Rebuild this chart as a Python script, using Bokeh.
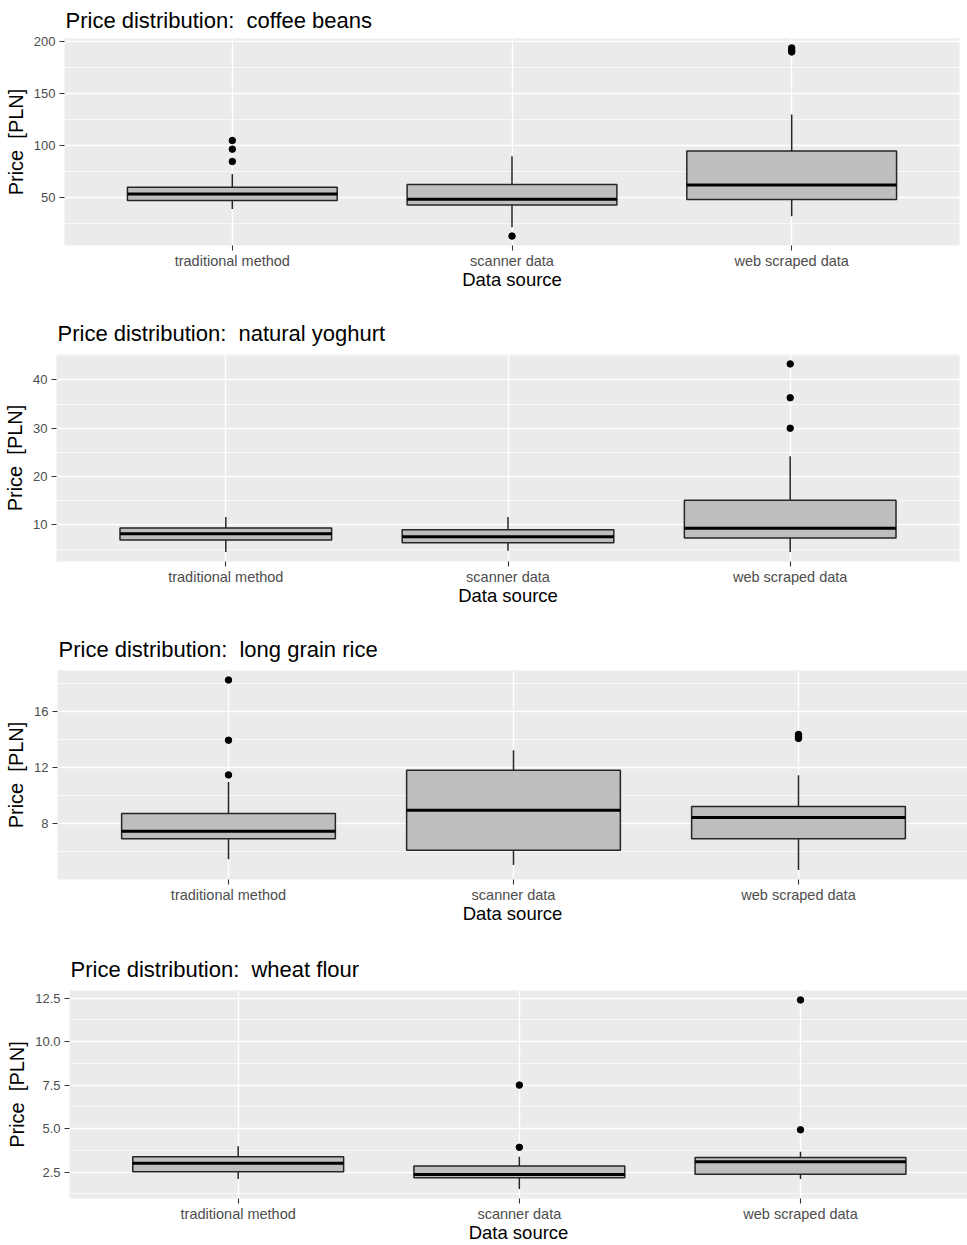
from bokeh.plotting import figure
from bokeh.models import FixedTicker, Range1d
from bokeh.layouts import column, row
from bokeh.embed import file_html
from bokeh.resources import INLINE

FONT = "Liberation Sans"
SP2 = " \u00a0"  # double space kept visible

categories = ["traditional method", "scanner data", "web scraped data"]

# ---- coffee beans ----
coffee_lower = [38.8, 21.1, 31.7]
coffee_q1 = [46.8, 42.6, 47.8]
coffee_median = [53.2, 48.1, 61.9]
coffee_q3 = [59.6, 62.2, 94.6]
coffee_upper = [72.5, 89.5, 129.7]
coffee_outliers = [[84.4, 96.3, 104.6], [12.7], [189.7, 191.3, 193.6]]
coffee_ticks = [50, 100, 150, 200]
coffee_tick_labels = ["50", "100", "150", "200"]
coffee_minor = [25, 75, 125, 175]

# ---- natural yoghurt ----
yoghurt_lower = [4.39, 4.66, 4.39]
yoghurt_q1 = [6.88, 6.33, 7.3]
yoghurt_median = [8.2, 7.57, 9.3]
yoghurt_q3 = [9.38, 9.03, 15.1]
yoghurt_upper = [11.66, 11.66, 24.2]
yoghurt_outliers = [[], [], [30.0, 36.3, 43.3]]
yoghurt_ticks = [10, 20, 30, 40]
yoghurt_tick_labels = ["10", "20", "30", "40"]
yoghurt_minor = [5, 15, 25, 35, 45]

# ---- long grain rice ----
rice_lower = [5.47, 5.06, 4.70]
rice_q1 = [6.93, 6.11, 6.93]
rice_median = [7.47, 8.96, 8.45]
rice_q3 = [8.74, 11.82, 9.24]
rice_upper = [10.99, 13.25, 11.46]
rice_outliers = [[11.49, 13.97, 18.27], [], [14.1, 14.22, 14.38]]
rice_ticks = [8, 12, 16]
rice_tick_labels = ["8", "12", "16"]
rice_minor = [6, 10, 14, 18]

# ---- wheat flour ----
flour_lower = [2.1, 1.52, 2.1]
flour_q1 = [2.52, 2.17, 2.37]
flour_median = [3.0, 2.35, 3.09]
flour_q3 = [3.38, 2.84, 3.34]
flour_upper = [3.98, 3.38, 3.67]
flour_outliers = [[], [3.92, 7.5], [4.93, 12.4]]
flour_ticks = [2.5, 5.0, 7.5, 10.0, 12.5]
flour_tick_labels = ["2.5", "5.0", "7.5", "10.0", "12.5"]
flour_minor = [1.25, 3.75, 6.25, 8.75, 11.25]

products = [
    ("coffee beans", coffee_lower, coffee_q1, coffee_median, coffee_q3, coffee_upper,
     coffee_outliers, coffee_ticks, coffee_tick_labels, coffee_minor),
    ("natural yoghurt", yoghurt_lower, yoghurt_q1, yoghurt_median, yoghurt_q3, yoghurt_upper,
     yoghurt_outliers, yoghurt_ticks, yoghurt_tick_labels, yoghurt_minor),
    ("long grain rice", rice_lower, rice_q1, rice_median, rice_q3, rice_upper,
     rice_outliers, rice_ticks, rice_tick_labels, rice_minor),
    ("wheat flour", flour_lower, flour_q1, flour_median, flour_q3, flour_upper,
     flour_outliers, flour_ticks, flour_tick_labels, flour_minor),
]

# layout per panel: height, border top, border bottom, border left/right, x end, title standoff
layouts = [
    dict(h=300, top=38, bottom=55, left=64, right=8, xend=3.6, ts=11),
    dict(h=320, top=54, bottom=59, left=56, right=8, xend=3.6, ts=17),
    dict(h=320, top=50, bottom=61, left=57, right=0, xend=3.593, ts=17),
    dict(h=305, top=50, bottom=46, left=69, right=0, xend=3.594, ts=17),
]

BOX_W = 0.75
figs = []
for (name, lower, q1, med, q3, upper, outl, ticks, tlabels, minor), L in zip(products, layouts):
    xs = list(range(1, len(categories) + 1))
    allv = lower + upper + [v for o in outl for v in o]
    lo, hi = min(allv), max(allv)
    pad = 0.05 * (hi - lo)

    p = figure(width=967, height=L["h"], output_backend="svg", toolbar_location=None,
               x_range=Range1d(0.4, L["xend"]), y_range=Range1d(lo - pad, hi + pad),
               min_border_left=L["left"], min_border_right=L["right"],
               min_border_top=L["top"], min_border_bottom=L["bottom"],
               title="Price distribution:" + SP2 + name)
    p.background_fill_color = "#EBEBEB"
    p.border_fill_color = "white"
    p.outline_line_color = None

    p.title.text_font = FONT
    p.title.text_font_size = "22px"
    p.title.text_font_style = "normal"
    p.title.text_color = "black"
    p.title.align = "left"
    p.title.offset = 1
    p.title.standoff = L["ts"]

    # x axis
    xax = p.xaxis[0]
    xax.ticker = FixedTicker(ticks=xs, minor_ticks=[])
    xax.major_label_overrides = {x: c for x, c in zip(xs, categories)}
    xax.axis_label = "Data source"
    # y axis
    yax = p.yaxis[0]
    yax.ticker = FixedTicker(ticks=ticks, minor_ticks=minor)
    yax.major_label_overrides = {t: s for t, s in zip(ticks, tlabels)}
    yax.axis_label = "Price" + SP2 + "[PLN]"

    for ax, lab_size, std, lstd in ((xax, "14.5px", 2, -3), (yax, "13px", 4, 4)):
        ax.axis_line_color = None
        ax.major_tick_line_color = "#333333"
        ax.major_tick_line_width = 1.1
        ax.major_tick_out = 5
        ax.major_tick_in = 0
        ax.minor_tick_line_color = None
        ax.major_label_text_font = FONT
        ax.major_label_text_font_size = lab_size
        ax.major_label_text_color = "#4D4D4D"
        ax.major_label_standoff = std
        ax.axis_label_text_font = FONT
        ax.axis_label_text_font_style = "normal"
        ax.axis_label_text_color = "black"
        ax.axis_label_standoff = lstd
    xax.axis_label_text_font_size = "18.5px"
    yax.axis_label_text_font_size = "20px"

    p.xgrid.grid_line_color = "white"
    p.xgrid.grid_line_width = 1.4
    p.ygrid.grid_line_color = "white"
    p.ygrid.grid_line_width = 1.4
    p.ygrid.minor_grid_line_color = "white"
    p.ygrid.minor_grid_line_width = 0.7
    p.ygrid.minor_grid_line_alpha = 0.9

    # whiskers
    p.segment(x0=xs, y0=q3, x1=xs, y1=upper, line_color="#262626", line_width=1.5)
    p.segment(x0=xs, y0=q1, x1=xs, y1=lower, line_color="#262626", line_width=1.5)
    # boxes
    p.vbar(x=xs, width=BOX_W, bottom=q1, top=q3, fill_color="#BEBEBE",
           line_color="#262626", line_width=1.5)
    # medians
    p.segment(x0=[x - BOX_W / 2 for x in xs], y0=med, x1=[x + BOX_W / 2 for x in xs], y1=med,
              line_color="black", line_width=3)
    # outliers
    ox = [x for x, o in zip(xs, outl) for _ in o]
    oy = [v for o in outl for v in o]
    if ox:
        p.scatter(x=ox, y=oy, size=6.5, fill_color="black", line_color="black")
    figs.append(p)

layout = column(*[row(f) for f in figs], spacing=0)
open("out.html", "w").write(file_html(layout, INLINE))
